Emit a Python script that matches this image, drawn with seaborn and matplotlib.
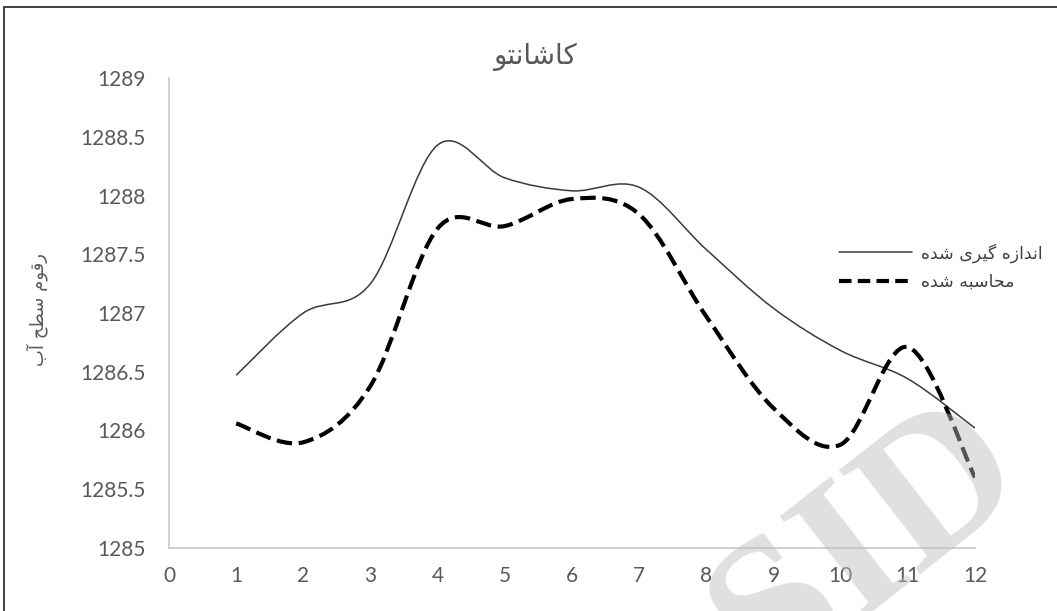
import matplotlib
matplotlib.use('Agg')
import matplotlib.pyplot as plt
from matplotlib.path import Path
from matplotlib.patches import PathPatch, Rectangle
from matplotlib import font_manager
from matplotlib.ft2font import FT2Font
import seaborn as sns
import numpy as np
import pandas as pd

# data
months = [1, 2, 3, 4, 5, 6, 7, 8, 9, 10, 11, 12]
measured = [1286.47, 1287.0, 1287.25, 1288.43, 1288.15, 1288.04, 1288.07, 1287.54, 1287.04, 1286.68, 1286.44, 1286.02]
computed = [1286.06, 1285.9, 1286.38, 1287.72, 1287.74, 1287.97, 1287.84, 1286.97, 1286.19, 1285.88, 1286.71, 1285.6]
x_ticks = list(range(0, 13))
y_ticks = [1285, 1285.5, 1286, 1286.5, 1287, 1287.5, 1288, 1288.5, 1289]

title_txt = 'کاشانتو'
ylabel_txt = 'رقوم سطح آب'
label_measured = 'اندازه گیری شده'
label_computed = 'محاسبه شده'

# --- minimal arabic shaping (matplotlib has no complex text layout) ---
dv_path = font_manager.findfont('DejaVu Sans')
cmap = FT2Font(dv_path).get_charmap()

FORMS = {  # isolated, final, initial, medial
    'ا': ('\uFE8D', '\uFE8E', None, None),
    'آ': ('\uFE81', '\uFE82', None, None),
    'د': ('\uFEA9', '\uFEAA', None, None),
    'ر': ('\uFEAD', '\uFEAE', None, None),
    'ز': ('\uFEAF', '\uFEB0', None, None),
    'و': ('\uFEED', '\uFEEE', None, None),
    'ب': ('\uFE8F', '\uFE90', '\uFE91', '\uFE92'),
    'ت': ('\uFE95', '\uFE96', '\uFE97', '\uFE98'),
    'ح': ('\uFEA1', '\uFEA2', '\uFEA3', '\uFEA4'),
    'س': ('\uFEB1', '\uFEB2', '\uFEB3', '\uFEB4'),
    'ش': ('\uFEB5', '\uFEB6', '\uFEB7', '\uFEB8'),
    'ط': ('\uFEC1', '\uFEC2', '\uFEC3', '\uFEC4'),
    'ق': ('\uFED5', '\uFED6', '\uFED7', '\uFED8'),
    'م': ('\uFEE1', '\uFEE2', '\uFEE3', '\uFEE4'),
    'ن': ('\uFEE5', '\uFEE6', '\uFEE7', '\uFEE8'),
    'ه': ('\uFEE9', '\uFEEA', '\uFEEB', '\uFEEC'),
    'ک': ('\uFB8E', '\uFB8F', '\uFB90', '\uFB91'),
    'گ': ('\uFB92', '\uFB93', '\uFB94', '\uFB95'),
    'ی': ('\uFBFC', '\uFBFD', '\uFBFE', '\uFBFF'),
}
FALLBACK = {
    'ک': ('\uFED9', '\uFEDA', '\uFEDB', '\uFEDC'),
    'گ': ('\uFED9', '\uFEDA', '\uFEDB', '\uFEDC'),
    'ی': ('\uFEEF', '\uFEF0', '\uFEF3', '\uFEF4'),
}


def glyph(c, k):
    g = FORMS[c][k]
    if ord(g) not in cmap and c in FALLBACK:
        g = FALLBACK[c][k]
    return g


def shape(text):
    out = []
    for i, c in enumerate(text):
        if c not in FORMS:
            out.append(c)
            continue
        prev = text[i - 1] if i > 0 else ''
        nxt = text[i + 1] if i + 1 < len(text) else ''
        jp = prev in FORMS and FORMS[prev][2] is not None
        jn = FORMS[c][2] is not None and nxt in FORMS
        k = 3 if (jp and jn) else 1 if jp else 2 if jn else 0
        out.append(glyph(c, k))
    return ''.join(reversed(out))


def smooth_path(xs, ys):
    # excel-like smoothed line as cubic bezier segments
    p = np.column_stack([xs, ys]).astype(float)
    pe = np.vstack([p[0], p, p[-1]])
    verts = [p[0]]
    codes = [Path.MOVETO]
    for i in range(len(p) - 1):
        p0, p1, p2, p3 = pe[i], pe[i + 1], pe[i + 2], pe[i + 3]
        verts += [p1 + (p2 - p0) / 6, p2 - (p3 - p1) / 6, p2]
        codes += [Path.CURVE4] * 3
    return Path(verts, codes)


sns.set_style('white')
plt.rcParams['font.family'] = ['Lato', 'DejaVu Sans']

df = pd.DataFrame({'x': months, 'measured': measured, 'computed': computed})

fig = plt.figure(figsize=(10.57, 6.11), dpi=100)
ax = fig.add_axes([169 / 1057, 1 - 548 / 611, 806 / 1057, 470 / 611])

sns.lineplot(data=df, x='x', y='measured', ax=ax, color='#3a3a3a', linewidth=1.1,
             label=shape(label_measured))
sns.lineplot(data=df, x='x', y='computed', ax=ax, color='black', linewidth=3.0,
             linestyle=(0, (3.0, 1.5)), label=shape(label_computed))

leg = ax.legend(loc='center left', bbox_to_anchor=(830 / 1057, 1 - 267 / 611),
                bbox_transform=fig.transFigure, frameon=False, handlelength=4.2,
                handletextpad=0.55, labelspacing=0.6, borderpad=0,
                prop={'family': 'DejaVu Sans', 'size': 12.5})
for t in leg.get_texts():
    t.set_color('#404040')

# replace the straight segments by the smoothed curves
for line, ys in zip(ax.lines[:2], [measured, computed]):
    patch = PathPatch(smooth_path(months, ys), facecolor='none',
                      edgecolor=line.get_color(), linewidth=line.get_linewidth(),
                      linestyle=line.get_linestyle(), capstyle='butt', zorder=3)
    ax.add_patch(patch)
    line.set_visible(False)

ax.set_xlim(0, 12)
ax.set_ylim(1285, 1289)
ax.set_xticks(x_ticks)
ax.set_yticks(y_ticks)
ax.set_yticklabels([f'{v:g}' for v in y_ticks])
ax.set_xlabel('')
ax.set_ylabel('')
ax.tick_params(length=0, labelsize=15, labelcolor='#595959')
ax.tick_params(axis='y', pad=17)
ax.tick_params(axis='x', pad=13)
sns.despine(ax=ax)
for s in ['left', 'bottom']:
    ax.spines[s].set_color('#c8c8c8')
    ax.spines[s].set_linewidth(1.2)

fig.text(535 / 1057, 1 - 57 / 611, shape(title_txt), ha='center', va='center',
         fontsize=20, color='#595959', family='DejaVu Sans')
fig.text(37 / 1057, 1 - 310 / 611, shape(ylabel_txt), ha='center', va='center',
         rotation=90, fontsize=13, color='#595959', family='DejaVu Sans')

# outer chart border
fig.add_artist(Rectangle((4 / 1057, -0.05), 1.1, 1 - 7 / 611 + 0.05,
                         transform=fig.transFigure, fill=False,
                         edgecolor='#333333', linewidth=1.3))

# watermark
fig.text(868 / 1057, 1 - 545 / 611, 'SID', ha='center', va='center', rotation=38,
         fontsize=145, fontweight='bold', family='Liberation Serif',
         color='#bbbbbb', alpha=0.45, zorder=10)

fig.savefig('out.png', dpi=100)
